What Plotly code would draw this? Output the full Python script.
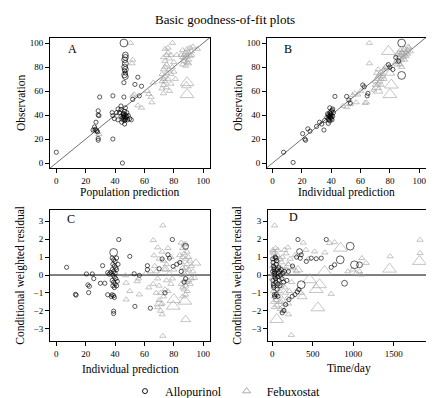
import plotly.graph_objects as go

# ---------------- data ----------------
# Panel A: population prediction vs observation
A_allo_x = [0, 45, 46, 55.5, 53.5, 58, 56.5, 52, 29.5, 38.5, 28.5, 28.5, 29, 27, 26, 25, 26.5, 27.5,
            28, 28.5, 28.5, 38.5, 38, 38.5, 39.5, 42, 43, 44, 45.5, 44, 46, 47, 47.5, 45.5, 46.5, 44.5,
            48.5, 49, 46.5, 50, 51, 44, 47, 42, 41, 48, 46, 45, 47, 46, 48, 47, 46.5, 45.5, 46, 46.5, 47]
A_allo_y = [9, 0, 67, 71.5, 65.5, 64, 56, 53, 55, 56, 43.5, 40, 39.5, 34, 30, 27.5, 28, 27,
            26, 20.5, 19, 20, 42, 39.5, 37, 45, 42, 44.5, 41, 39, 38, 40, 38, 36, 35.5, 34,
            36, 39.5, 32.5, 37, 36, 47.5, 46, 36, 42, 42, 39, 38, 37, 41, 39, 36, 43, 40, 55, 77, 75]
A_allo_big_x = [46, 47, 47, 46.5, 47, 46.5, 47, 46.5, 47]
A_allo_big_y = [100, 90, 88, 86, 83, 80, 78, 73.5, 72]
A_allo_big_w = [3, 2, 2, 2, 2, 2, 2, 2, 2]

A_febu_x = [50.5, 51.5, 52, 55.5, 58, 52, 53, 63, 64.5, 65, 66, 62, 27, 28, 29, 26, 72, 73, 72, 73,
            74, 72, 75, 73, 74, 75, 74, 73, 75, 76, 74, 77, 77, 76, 78, 75, 78, 79, 80, 78,
            76, 77, 73, 79, 81, 80, 82, 74, 86, 87, 88, 87, 88, 89, 86, 89, 90, 91, 90, 91,
            92, 88, 87, 89, 90, 92, 93, 96, 85, 86]
A_febu_y = [100, 83, 86, 48, 46, 56, 57, 57.5, 55, 50.5, 67, 60, 28.5, 26, 24, 27, 62, 65, 68, 70,
            72, 74, 75, 78, 80, 82, 85, 88, 90, 92, 95, 87, 78, 70, 66, 63, 74, 80, 84, 90,
            96, 60, 58, 100, 70, 76, 90, 68, 82, 85, 88, 90, 92, 95, 94, 84, 86, 89, 92, 96,
            90, 81, 87, 90, 83, 93, 97, 95, 90, 88]
A_febu_big_x = [89, 89, 88.5]
A_febu_big_y = [67, 57, 64.5]
A_febu_big_w = [3, 3, 2]

# Panel B: individual prediction vs observation
B_allo_x = [7.5, 14, 20.5, 22, 22.5, 24, 25.5, 30, 32, 33.5, 35, 35.5, 37, 38, 38.5, 39, 39.5, 40, 40.5, 39,
            38, 40, 41, 39.5, 38.5, 40, 41, 39, 37.5, 40.5, 41.5, 39, 40, 38, 42.5, 50.5, 52, 53, 61.5, 62.5,
            65, 64.5, 79, 80, 84, 86, 82]
B_allo_y = [9, 0.5, 24.5, 20, 19, 28.5, 26.5, 30.5, 34, 32.5, 27.5, 35.5, 38, 40, 36, 42, 38, 40, 44, 35,
            33, 37, 39, 41, 39, 43, 45, 46, 41, 36, 42, 39, 38.5, 37, 55.5, 55.5, 52.5, 50, 65, 63.5,
            58, 56, 82, 80, 88, 85, 78]
B_allo_big_x = [88, 88]
B_allo_big_y = [100, 73]
B_allo_big_w = [3, 3]

B_febu_x = [66, 66, 48, 50.5, 53, 57, 63, 64, 54.5, 56, 58, 60, 69, 70, 70, 71, 72, 73, 74, 72,
            74, 75, 73, 76, 77, 75, 78, 76, 71, 74, 72, 84, 85, 86, 87, 88, 89, 90, 85, 86,
            87, 88, 89, 90, 91, 92, 93, 87, 88, 86, 90, 91, 92, 85, 89, 92.5, 94]
B_febu_y = [100, 83, 47.5, 46.5, 49, 50.5, 50, 50.5, 56.5, 58, 57, 60, 61, 65, 68, 70, 72, 74, 76, 66,
            70, 72, 68, 78, 80, 74, 79, 70, 75, 65, 78, 84, 86, 88, 90, 92, 94, 95, 90, 84,
            82, 86, 88, 90, 92, 94, 96, 94, 80, 92, 86, 89, 91, 82, 91, 97, 93]
B_febu_big_x = [79, 81, 80, 71, 72, 78, 80]
B_febu_big_y = [93, 65, 57, 63, 60, 80, 75]
B_febu_big_w = [3, 3, 3, 2, 2, 2, 2]

# Panel C: individual prediction vs CWRES
C_allo_x = [7, 13, 13.5, 20.5, 21.5, 22.5, 22, 24.5, 25.5, 30, 33, 31.5, 35, 35, 36, 38, 39, 40, 38.5, 39.5,
            40.5, 38, 39, 40, 38.5, 39.5, 40.5, 38, 39, 40, 38.5, 39.5, 41, 38, 39, 39.5, 37.5, 41, 41.5, 37,
            42, 41, 39, 39, 42.5, 50, 53, 53.5, 56.5, 62, 62, 64, 79, 74, 76, 77, 79.5, 87, 72, 70,
            82, 84, 85, 88]
C_allo_y = [0.43, -1.08, -1.12, 0.06, -0.55, -0.63, -0.98, 0.06, -0.2, -0.46, -0.46, 0.52, 0.13, -1.1, 0.05, 0.95, 0.85, 0.75, 0.6, 0.5,
            0.4, 0.3, 0.2, 0.1, 0, -0.1, -0.2, -0.3, -0.4, -0.5, -0.6, -0.7, -0.6, -1.1, -1.15, -1.25, -1.2, 0.3, -0.35, 0.15,
            0.6, 0.95, -2.02, -2.15, 1.98, 1.04, 0.07, -1.75, -0.02, 0.52, 0.3, -1.85, 1.98, -1.0, 1.13, 0.94, 0.48, -0.4, 0.9, 0.35,
            0.6, 0.7, 0.2, -0.2]
C_allo_big_x = [39, 88]
C_allo_big_y = [1.26, 1.6]
C_allo_big_w = [3, 2]

C_febu_x = [47, 47.5, 50, 47.5, 56.5, 55, 56, 61, 63, 64, 66, 66.5, 69, 72.5, 72.5, 67, 68, 69, 70, 71,
            70, 69, 71, 72, 73, 74, 75, 74, 73, 72, 76, 78, 75, 77, 78, 76, 70, 68, 72, 66,
            80, 79, 94, 85, 86, 87, 88, 89, 90, 86, 87, 88, 89, 86, 87, 88, 89, 90, 91, 92,
            85, 86, 87, 88, 89, 90, 91, 92, 85, 86, 84, 93, 88, 86, 87, 89]
C_febu_y = [-0.02, -0.44, -0.9, -1.37, -1.09, -0.35, -0.2, 0.1, -0.7, 0.2, 1.94, 1.09, 1.54, 2.76, -3.4, 0.5, 0.2, -0.2, -0.6, -1.0,
            -1.4, -1.8, -2.0, -1.6, -1.2, -0.8, -0.3, 0.3, 0.8, 1.3, 1.5, 1.0, 0.6, 0.1, -0.5, -0.9, 0.9, -1.0, -2.2, -0.5,
            0.3, -0.2, -0.17, 1.8, 1.5, 1.2, 0.9, 0.6, 0.3, 0, -0.3, -0.6, -0.9, -1.2, 1.7, 0.4, 0.1, -0.3, 0.8, 0.5,
            0.7, 0.4, -0.8, -1.1, 1.3, 1.0, -0.5, -0.2, -0.5, 1.0, 1.1, 0.2, 1.75, -0.7, 0.1, -0.4]
C_febu_big_x = [80, 79.5, 87.5, 88, 95, 74, 70]
C_febu_big_y = [-1.37, -1.74, -1.46, -2.48, 0.67, 0.35, -1.6]
C_febu_big_w = [3, 3, 3, 2, 2, 2, 2]

# Panel D: time vs CWRES
D_allo_x = [5, 10, 15, 20, 25, 30, 8, 12, 18, 22, 28, 35, 40, 45, 50, 55, 60, 65, 70, 75,
            80, 85, 90, 95, 100, 110, 120, 130, 140, 150, 35, 45, 25, 30, 49, 70, 15, 5, 60, 329,
            309, 280, 247, 206, 165, 144, 123, 317, 667, 358, 346, 420, 481, 543, 605, 728, 770, 200, 250, 300,
            180]
D_allo_y = [0.9, 0.7, 0.5, 0.3, 0.1, -0.1, -0.3, -0.5, -0.7, 0.4, 0.2, 0.0, -0.2, -0.4, 0.6, 0.8, 0.3, -0.1, -0.5, 0.1,
            0.4, -0.3, 0.2, -0.6, 0.0, 0.3, -0.2, 0.1, -0.4, 0.2, 1.0, 0.95, -1.1, -1.2, -1.09, -1.19, -0.6, 0.2, -0.8, -0.81,
            -0.94, -1.09, -1.19, -1.37, -1.65, -1.98, -2.11, 1.98, 1.98, 1.13, 0.94, 0.76, 0.94, 0.91, 0.94, 0.43, 0.57, 0.2, 0.5, 1.0,
            -0.3]
D_allo_big_x = [337, 840, 963, 893, 1016, 1078, 358]
D_allo_big_y = [1.31, 0.85, 1.61, -0.46, 0.57, 0.57, -0.54]
D_allo_big_w = [2, 3, 3, 2, 3, 2, 3]

D_febu_x = [29, 8, 41, 193, 523, 708, 770, 1107, 1457, 1827, 1827, 235, 728, 358, 200, 996, 1037, 934, 1078, 1099,
            1160, 383, 415, 650, 445, 10, 20, 30, 40, 50, 60, 70, 80, 90, 100, 110, 120, 130, 15, 25,
            35, 45, 55, 65, 75, 85, 95, 105, 115, 125, 135, 145, 155, 165, 175, 185, 195, 150, 170, 0,
            5, 12, 18, 28, 38, 48, 58, 68, 88, 98, 108, 140, 160, 210, 220, 240, 260, 280, 300, 320,
            100, 200]
D_febu_y = [2.76, 1.4, 1.5, 1.54, 1.31, 1.78, 1.83, 0.94, 1.04, 1.96, 1.22, -3.35, -1.06, -1.0, -1.6, 0.3, 0.1, 0.2, 0.2, 0.02,
            0.67, 1.8, 1.4, 1.25, 0.9, 1.3, 1.2, 0.9, 0.6, 0.3, 0, -0.3, -0.6, -0.9, -1.2, -1.5, -1.8, -2.0, -1.5, -1.8,
            -0.5, -0.8, 0.8, 1.1, 0.5, 0.2, -0.1, 0.4, 0.7, 1.0, -0.4, 0.1, -0.7, -1.0, 0.3, -1.3, 0.6, 1.4, 1.2, -0.2,
            0.5, -0.9, 0.1, -1.2, 1.0, -1.4, -1.7, 1.4, -1.5, 0.9, -0.6, -2.0, -1.6, -0.9, 0.9, -0.4, 0.4, 1.1, 0.2, -0.8,
            -1.9, -2.2]
D_febu_big_x = [844, 1449, 1819, 55, 564, 543, 584, 461, 646, 370, 317, 200]
D_febu_big_y = [1.5, 0.33, 0.76, -2.48, -1.83, -0.81, -0.54, -0.26, 0.2, -1.2, 0.3, 0.5]
D_febu_big_w = [3, 3, 3, 3, 3, 3, 3, 3, 3, 2, 2, 2]

TITLE = "Basic goodness-of-fit plots"
PANEL_LABELS = ["A", "B", "C", "D"]
X_TITLES = ["Population prediction", "Individual prediction", "Individual prediction", "Time/day"]
Y_TITLES = ["Observation", "Observation", "Conditional weighted residual", "Conditional weighted residual"]
SERIES = ["Allopurinol", "Febuxostat"]

# ---------------- styling ----------------
W, H = 434, 398
FONT = "Liberation Serif"
GRAY = "#a3a3a3"
CIRC_SIZE = {1: 4.2, 2: 5.8, 3: 7.8}
TRI_SIZE = {1: 5.5, 2: 8.5, 3: 12}


def px_x(p):
    return p / W


def px_y(p):
    return 1 - p / H


fig = go.Figure()

panels = [
    ("x", "y", A_allo_x, A_allo_y, A_allo_big_x, A_allo_big_y, A_allo_big_w,
     A_febu_x, A_febu_y, A_febu_big_x, A_febu_big_y, A_febu_big_w),
    ("x2", "y2", B_allo_x, B_allo_y, B_allo_big_x, B_allo_big_y, B_allo_big_w,
     B_febu_x, B_febu_y, B_febu_big_x, B_febu_big_y, B_febu_big_w),
    ("x3", "y3", C_allo_x, C_allo_y, C_allo_big_x, C_allo_big_y, C_allo_big_w,
     C_febu_x, C_febu_y, C_febu_big_x, C_febu_big_y, C_febu_big_w),
    ("x4", "y4", D_allo_x, D_allo_y, D_allo_big_x, D_allo_big_y, D_allo_big_w,
     D_febu_x, D_febu_y, D_febu_big_x, D_febu_big_y, D_febu_big_w),
]

for i, (xa, ya, ax, ay, abx, aby, abw, fx, fy, fbx, fby, fbw) in enumerate(panels):
    # reference line
    if i < 2:
        fig.add_trace(go.Scatter(x=[-10, 110], y=[-10, 110], mode="lines", xaxis=xa, yaxis=ya,
                                 line=dict(color="#333333", width=0.7), showlegend=False, hoverinfo="skip"))
    else:
        fig.add_trace(go.Scatter(x=[-200, 2100] if i == 3 else [-10, 110], y=[0, 0], mode="lines",
                                 xaxis=xa, yaxis=ya, line=dict(color="black", width=1),
                                 showlegend=False, hoverinfo="skip"))
    # febuxostat (gray triangles)
    fxs = list(fx) + list(fbx)
    fys = list(fy) + list(fby)
    fsz = [TRI_SIZE[1]] * len(fx) + [TRI_SIZE[w] for w in fbw]
    fig.add_trace(go.Scatter(x=fxs, y=fys, mode="markers", xaxis=xa, yaxis=ya, showlegend=False,
                             marker=dict(symbol="triangle-up-open", size=fsz, color=GRAY,
                                         line=dict(color=GRAY, width=0.9))))
    # allopurinol (black circles)
    axs = list(ax) + list(abx)
    ays = list(ay) + list(aby)
    asz = [CIRC_SIZE[1]] * len(ax) + [CIRC_SIZE[w] for w in abw]
    fig.add_trace(go.Scatter(x=axs, y=ays, mode="markers", xaxis=xa, yaxis=ya, showlegend=False,
                             marker=dict(symbol="circle-open", size=asz, color="black",
                                         line=dict(color="black", width=0.9))))

# legend entries
fig.add_trace(go.Scatter(x=[None], y=[None], mode="markers", name=SERIES[0],
                         marker=dict(symbol="circle-open", size=5, color="black", line=dict(width=0.9))))
fig.add_trace(go.Scatter(x=[None], y=[None], mode="markers", name=SERIES[1],
                         marker=dict(symbol="triangle-up-open", size=7, color=GRAY, line=dict(width=0.9))))

axis_common = dict(showline=True, mirror=True, linecolor="black", linewidth=1, ticks="outside",
                   ticklen=4, tickwidth=1, tickcolor="black", showgrid=False, zeroline=False,
                   tickfont=dict(family=FONT, size=9, color="black"), fixedrange=True)

dom_x_left = [px_x(42), px_x(202)]
dom_x_right_top = [px_x(259), px_x(418)]
dom_x_right_bot = [px_x(260), px_x(418)]
dom_y_top = [px_y(161), px_y(30)]
dom_y_bot = [px_y(335), px_y(203)]
t100 = [0, 20, 40, 60, 80, 100]
t3 = [-3, -2, -1, 0, 1, 2, 3]

fig.update_layout(
    width=W, height=H, margin=dict(l=0, r=0, t=0, b=0),
    paper_bgcolor="white", plot_bgcolor="white",
    font=dict(family=FONT, color="black"),
    xaxis=dict(axis_common, domain=dom_x_left, range=[-4.3, 104.6], tickvals=t100, anchor="y"),
    yaxis=dict(axis_common, domain=dom_y_top, range=[-4.3, 104.3], tickvals=t100, anchor="x"),
    xaxis2=dict(axis_common, domain=dom_x_right_top, range=[-3.8, 104.6], tickvals=t100, anchor="y2"),
    yaxis2=dict(axis_common, domain=dom_y_top, range=[-4.3, 104.3], tickvals=t100, anchor="x2"),
    xaxis3=dict(axis_common, domain=dom_x_left, range=[-4.3, 104.6], tickvals=t100, anchor="y3"),
    yaxis3=dict(axis_common, domain=dom_y_bot, range=[-3.7, 3.63], tickvals=t3, anchor="x3"),
    xaxis4=dict(axis_common, domain=dom_x_right_bot, range=[-53, 1900], tickvals=[0, 500, 1000, 1500], anchor="y4"),
    yaxis4=dict(axis_common, domain=dom_y_bot, range=[-3.7, 3.63], tickvals=t3, anchor="x4"),
    showlegend=True,
    legend=dict(orientation="h", x=0.5, xanchor="center", y=px_y(385), yanchor="middle",
                font=dict(family=FONT, size=12, color="black"), bgcolor="rgba(0,0,0,0)",
                itemwidth=30, tracegroupgap=0),
)

ann = []
ann.append(dict(text=TITLE, x=px_x(217), y=px_y(12), xref="paper", yref="paper", showarrow=False,
                font=dict(family=FONT, size=13), xanchor="center", yanchor="middle"))
label_pos = [(64, 41), (280, 41), (63, 212), (285, 210)]
for lab, (lx, ly) in zip(PANEL_LABELS, label_pos):
    ann.append(dict(text=lab, x=px_x(lx), y=px_y(ly), xref="paper", yref="paper", showarrow=False,
                    font=dict(family=FONT, size=12), xanchor="center", yanchor="middle"))
xt_pos = [(122, 185), (338.5, 185), (122, 363), (341, 362)]
for t, (tx, ty) in zip(X_TITLES, xt_pos):
    ann.append(dict(text=t, x=px_x(tx), y=px_y(ty), xref="paper", yref="paper", showarrow=False,
                    font=dict(family=FONT, size=11.5), xanchor="center", yanchor="middle"))
yt_pos = [(13, 95.5), (230, 95.5), (13, 269), (230, 269)]
for t, (tx, ty) in zip(Y_TITLES, yt_pos):
    ann.append(dict(text=t, x=px_x(tx), y=px_y(ty), xref="paper", yref="paper", showarrow=False,
                    font=dict(family=FONT, size=11.5), xanchor="center", yanchor="middle", textangle=-90))
fig.update_layout(annotations=ann)

fig.write_html("out.html")
